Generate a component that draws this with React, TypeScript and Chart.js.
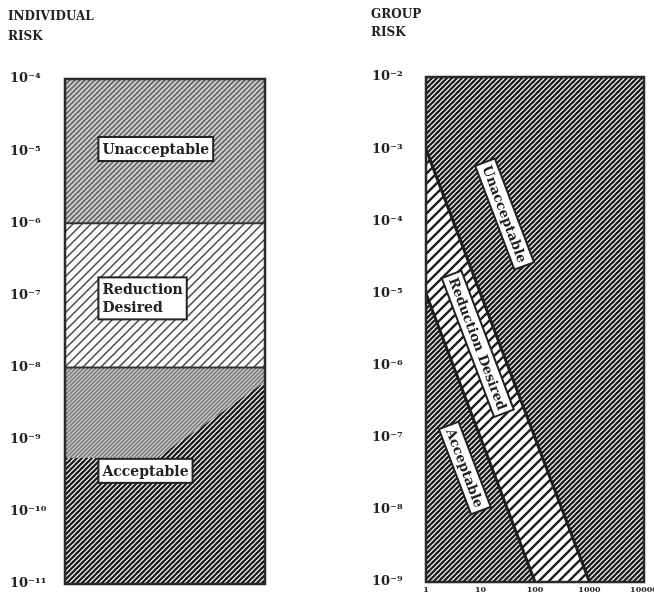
import React, { useEffect, useRef } from 'react';
import { Chart, registerables } from 'chart.js';

Chart.register(...registerables);

// ---------- Individual risk panel ----------
const individualTicks = [1e-4, 1e-5, 1e-6, 1e-7, 1e-8, 1e-9, 1e-10, 1e-11];
const individualTickLabels = ['10⁻⁴', '10⁻⁵', '10⁻⁶', '10⁻⁷', '10⁻⁸', '10⁻⁹', '10⁻¹⁰', '10⁻¹¹'];
const individualBands = ['Unacceptable', 'Reduction\nDesired', 'Acceptable'];
const individualBandTop = [1e-4, 1e-6, 1e-8];
const individualBandBottom = [1e-6, 1e-8, 1e-11];
const individualLabelX = [0.167, 0.167, 0.167];
const individualLabelY = [1.07e-5, 9.1e-8, 3.7e-10];
// darker shading inside the acceptable band (as printed)
const acceptableShadeX = [0, 0.46, 1];
const acceptableShadeY = [5.6e-10, 5.6e-10, 6.3e-9];

// ---------- Group risk panel ----------
const groupTicks = [1e-2, 1e-3, 1e-4, 1e-5, 1e-6, 1e-7, 1e-8, 1e-9];
const groupTickLabels = ['10⁻²', '10⁻³', '10⁻⁴', '10⁻⁵', '10⁻⁶', '10⁻⁷', '10⁻⁸', '10⁻⁹'];
const groupN = [1, 10, 100, 1000, 10000];
const groupNLabels = ['1', '10', '100', '1000', '10000'];
const unacceptableLimit = [1e-3, 1e-5, 1e-7, 1e-9, 1e-11];
const acceptableLimit = [1e-5, 1e-7, 1e-9, 1e-11, 1e-13];
const groupLabels = ['Unacceptable', 'Reduction Desired', 'Acceptable'];
const groupLabelN = [27.7, 8.9, 5.15];
const groupLabelF = [1.26e-4, 2.0e-6, 3.8e-8];

const FONT = '"DejaVu Serif", serif';
const INK = '#222222';

function hatch(p: number, lw: number, fg: string, bg: string): CanvasPattern {
  const c = document.createElement('canvas');
  c.width = p;
  c.height = p;
  const g = c.getContext('2d')!;
  g.fillStyle = bg;
  g.fillRect(0, 0, p, p);
  g.strokeStyle = fg;
  g.lineWidth = lw;
  g.lineCap = 'square';
  g.beginPath();
  for (const k of [-1, 0, 1]) {
    g.moveTo(k * p, p);
    g.lineTo(k * p + p, 0);
  }
  g.stroke();
  return g.createPattern(c, 'repeat')!;
}

function measureLabel(ctx: CanvasRenderingContext2D, text: string, font: string, lineH: number) {
  ctx.font = font;
  const lines = text.split('\n');
  const w = Math.max(...lines.map((l) => ctx.measureText(l).width));
  return { lines, w, h: lines.length * lineH };
}

const framePlugin = {
  id: 'frame',
  afterDatasetsDraw(chart: any) {
    const { ctx, chartArea: a } = chart;
    ctx.save();
    ctx.strokeStyle = '#2a2a2a';
    ctx.lineWidth = 2.5;
    ctx.strokeRect(a.left, a.top, a.right - a.left, a.bottom - a.top);
    ctx.restore();
  },
};

const individualLabelPlugin = {
  id: 'indLabels',
  afterDraw(chart: any) {
    const { ctx } = chart;
    const xs = chart.scales.x;
    const ys = chart.scales.y;
    ctx.save();
    individualBands.forEach((t, i) => {
      const font = `bold 14px ${FONT}`;
      const lh = 18;
      const m = measureLabel(ctx, t, font, lh);
      const x0 = xs.getPixelForValue(individualLabelX[i]);
      const cy = ys.getPixelForValue(individualLabelY[i]);
      const padX = 4;
      const padY = 3;
      const bw = m.w + padX * 2;
      const bh = m.h + padY * 2;
      ctx.fillStyle = '#ffffff';
      ctx.fillRect(x0, cy - bh / 2, bw, bh);
      ctx.strokeStyle = INK;
      ctx.lineWidth = 2;
      ctx.strokeRect(x0, cy - bh / 2, bw, bh);
      ctx.fillStyle = INK;
      ctx.textAlign = 'left';
      ctx.textBaseline = 'middle';
      m.lines.forEach((l, j) => {
        ctx.fillText(l, x0 + padX, cy - m.h / 2 + lh * j + lh / 2 + 1);
      });
    });
    ctx.restore();
  },
};

const groupLabelPlugin = {
  id: 'grpLabels',
  afterDraw(chart: any) {
    const { ctx } = chart;
    const xs = chart.scales.x;
    const ys = chart.scales.y;
    const x1 = xs.getPixelForValue(groupN[0]);
    const y1 = ys.getPixelForValue(unacceptableLimit[0]);
    const x2 = xs.getPixelForValue(groupN[3]);
    const y2 = ys.getPixelForValue(unacceptableLimit[3]);
    const ang = Math.atan2(y2 - y1, x2 - x1);
    ctx.save();
    groupLabels.forEach((t, i) => {
      const font = `bold 13.5px ${FONT}`;
      const m = measureLabel(ctx, t, font, 16);
      const cx = xs.getPixelForValue(groupLabelN[i]);
      const cy = ys.getPixelForValue(groupLabelF[i]);
      const bw = m.w + 8;
      const bh = 21;
      ctx.save();
      ctx.translate(cx, cy);
      ctx.rotate(ang);
      ctx.fillStyle = '#ffffff';
      ctx.fillRect(-bw / 2, -bh / 2, bw, bh);
      ctx.strokeStyle = INK;
      ctx.lineWidth = 2;
      ctx.strokeRect(-bw / 2, -bh / 2, bw, bh);
      ctx.fillStyle = INK;
      ctx.textAlign = 'center';
      ctx.textBaseline = 'middle';
      ctx.fillText(t, 0, 1);
      ctx.restore();
    });
    ctx.restore();
  },
};

export default function App() {
  const leftRef = useRef<HTMLCanvasElement>(null);
  const rightRef = useRef<HTMLCanvasElement>(null);

  useEffect(() => {
    const pUnacc = hatch(5, 2, '#6e6e6e', '#dedede');
    const pReduce = hatch(9, 1.5, '#4a4a4a', '#fbfbfb');
    const pAccLight = hatch(4, 1.6, '#7c7c7c', '#d2d2d2');
    const pAccDark = hatch(5, 2.3, '#1e1e1e', '#ffffff');
    const pDense = hatch(5, 2.3, '#1e1e1e', '#ffffff');
    const pBand = hatch(10, 2.4, '#1e1e1e', '#ffffff');

    const flat = (v: number) => [
      { x: 0, y: v },
      { x: 1, y: v },
    ];

    const left = new Chart(leftRef.current!, {
      type: 'line',
      data: {
        datasets: [
          { data: flat(individualBandBottom[0]), borderColor: '#333', borderWidth: 2, fill: false, pointRadius: 0 },
          { data: flat(individualBandBottom[1]), borderColor: '#333', borderWidth: 2, fill: false, pointRadius: 0 },
          {
            data: acceptableShadeX.map((x, i) => ({ x, y: acceptableShadeY[i] })),
            borderWidth: 0,
            pointRadius: 0,
            fill: 'start',
            backgroundColor: pAccDark,
          },
          {
            data: flat(individualBandTop[2]),
            borderWidth: 0,
            pointRadius: 0,
            fill: { value: individualBandBottom[2] },
            backgroundColor: pAccLight,
          },
          {
            data: flat(individualBandTop[1]),
            borderWidth: 0,
            pointRadius: 0,
            fill: { value: individualBandBottom[1] },
            backgroundColor: pReduce,
          },
          {
            data: flat(individualBandTop[0]),
            borderWidth: 0,
            pointRadius: 0,
            fill: { value: individualBandBottom[0] },
            backgroundColor: pUnacc,
          },
        ],
      },
      options: {
        animation: false,
        responsive: true,
        maintainAspectRatio: false,
        layout: { padding: { left: 10, top: 79, right: 10, bottom: 18 } },
        plugins: { legend: { display: false }, tooltip: { enabled: false }, title: { display: false } },
        scales: {
          x: { type: 'linear', min: 0, max: 1, display: false },
          y: {
            type: 'logarithmic',
            min: 1e-11,
            max: 1e-4,
            grid: { display: false, drawTicks: false },
            border: { display: false },
            afterBuildTicks: (s: any) => {
              s.ticks = individualTicks.map((v) => ({ value: v }));
            },
            afterFit: (s: any) => {
              s.width = 55;
            },
            ticks: {
              autoSkip: false,
              crossAlign: 'far',
              color: INK,
              font: { family: FONT, weight: 'bold', size: 13 },
              callback: (_v: any, i: number) => individualTickLabels[i],
            },
          },
        },
      } as any,
      plugins: [framePlugin, individualLabelPlugin],
    });

    const pts = (ys: number[]) => groupN.map((x, i) => ({ x, y: ys[i] }));

    const right = new Chart(rightRef.current!, {
      type: 'line',
      data: {
        datasets: [
          { data: pts(unacceptableLimit), borderColor: '#1e1e1e', borderWidth: 3, fill: false, pointRadius: 0 },
          { data: pts(acceptableLimit), borderColor: '#1e1e1e', borderWidth: 3, fill: false, pointRadius: 0 },
          { data: pts(unacceptableLimit), borderWidth: 0, pointRadius: 0, fill: 4, backgroundColor: pBand },
          { data: pts(unacceptableLimit), borderWidth: 0, pointRadius: 0, fill: 'end', backgroundColor: pDense },
          { data: pts(acceptableLimit), borderWidth: 0, pointRadius: 0, fill: 'start', backgroundColor: pDense },
        ],
      },
      options: {
        animation: false,
        responsive: true,
        maintainAspectRatio: false,
        layout: { padding: { left: 32, top: 77, right: 10, bottom: 4 } },
        plugins: { legend: { display: false }, tooltip: { enabled: false }, title: { display: false } },
        scales: {
          x: {
            type: 'logarithmic',
            min: 1,
            max: 10000,
            grid: { display: false, drawTicks: false },
            border: { display: false },
            afterBuildTicks: (s: any) => {
              s.ticks = groupN.map((v) => ({ value: v }));
            },
            afterFit: (s: any) => {
              s.height = 16;
              s.paddingLeft = 0;
              s.paddingRight = 0;
            },
            ticks: {
              autoSkip: false,
              maxRotation: 0,
              padding: 3,
              color: INK,
              font: { family: FONT, weight: 'bold', size: 8 },
              callback: (_v: any, i: number) => groupNLabels[i],
            },
          },
          y: {
            type: 'logarithmic',
            min: 1e-9,
            max: 1e-2,
            grid: { display: false, drawTicks: false },
            border: { display: false },
            afterBuildTicks: (s: any) => {
              s.ticks = groupTicks.map((v) => ({ value: v }));
            },
            afterFit: (s: any) => {
              s.width = 54;
            },
            ticks: {
              autoSkip: false,
              crossAlign: 'far',
              color: INK,
              font: { family: FONT, weight: 'bold', size: 13 },
              callback: (_v: any, i: number) => groupTickLabels[i],
            },
          },
        },
      } as any,
      plugins: [framePlugin, groupLabelPlugin],
    });

    return () => {
      left.destroy();
      right.destroy();
    };
  }, []);

  const titleStyle: React.CSSProperties = {
    position: 'absolute',
    font: `bold 12px ${FONT}`,
    lineHeight: '20px',
    color: INK,
    whiteSpace: 'pre',
  };

  return (
    <div style={{ position: 'absolute', left: 0, top: 0, width: 654, height: 602, overflow: 'hidden', background: '#ffffff' }}>
      <div style={{ position: 'absolute', left: 0, top: 0, width: 275, height: 602 }}>
        <canvas ref={leftRef} />
      </div>
      <div style={{ position: 'absolute', left: 340, top: 0, width: 314, height: 602 }}>
        <canvas ref={rightRef} />
      </div>
      <div style={{ ...titleStyle, left: 8, top: 6 }}>{'INDIVIDUAL\nRISK'}</div>
      <div style={{ ...titleStyle, left: 371, top: 5, lineHeight: '18px' }}>{'GROUP\nRISK'}</div>
    </div>
  );
}
